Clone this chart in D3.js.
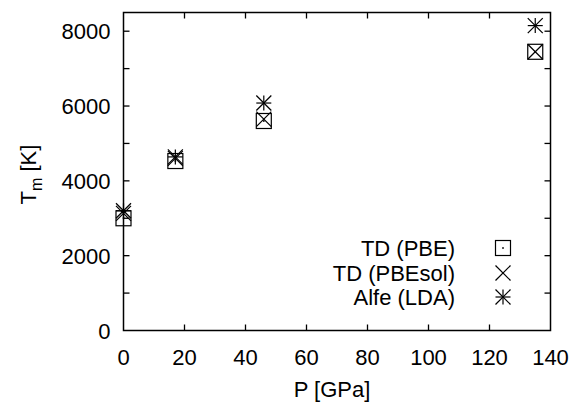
<!DOCTYPE html>
<html><head><meta charset="utf-8">
<script src="https://cdn.jsdelivr.net/npm/d3@7"></script>
<style>body{margin:0;background:#fff}svg{display:block}text{font-family:"Liberation Sans",Arial,sans-serif;fill:#000}</style>
</head><body><svg id="c" width="576" height="402"></svg>
<script>
const pressure = [0, 17, 46, 135];
const tdPBE = [3000, 4530, 5600, 7450];
const tdPBEsol = [3130, 4600, 5650, 7450];
const alfeLDA = [3200, 4640, 6080, 8150];
const xTicks = [0, 20, 40, 60, 80, 100, 120, 140];
const yTicks = [0, 1000, 2000, 3000, 4000, 5000, 6000, 7000, 8000];
const yLabelTicks = [0, 2000, 4000, 6000, 8000];
const seriesNames = ["TD (PBE)", "TD (PBEsol)", "Alfe (LDA)"];

const svg = d3.select("#c");
const L = 123.5, R = 550.5, T = 12.5, B = 330.5;
const x = d3.scaleLinear().domain([0, 140]).range([L, R]);
const y = d3.scaleLinear().domain([0, 8500]).range([B, T]);
const tl = 6, fs = 22;

const g = svg.append("g").attr("stroke", "#000").attr("stroke-width", 1.3).attr("fill", "none");
xTicks.forEach(v => {
  if (v === 0 || v === 140) return;
  g.append("line").attr("x1", x(v)).attr("x2", x(v)).attr("y1", B).attr("y2", B - tl);
  g.append("line").attr("x1", x(v)).attr("x2", x(v)).attr("y1", T).attr("y2", T + tl);
});
yTicks.forEach(v => {
  if (v === 0) return;
  g.append("line").attr("x1", L).attr("x2", L + tl).attr("y1", y(v)).attr("y2", y(v));
  g.append("line").attr("x1", R).attr("x2", R - tl).attr("y1", y(v)).attr("y2", y(v));
});
g.append("rect").attr("x", L).attr("y", T).attr("width", R - L).attr("height", B - T).attr("stroke-width", 1.5);

xTicks.forEach(v => svg.append("text").attr("x", x(v)).attr("y", B + 34).attr("text-anchor", "middle").attr("font-size", fs).text(v));
yLabelTicks.forEach(v => svg.append("text").attr("x", L - 13).attr("y", y(v) + 8).attr("text-anchor", "end").attr("font-size", fs).text(v));
svg.append("text").attr("x", (L + R) / 2 - 5).attr("y", 397).attr("text-anchor", "middle").attr("font-size", fs).text("P [GPa]");
const yl = svg.append("text").attr("transform", "translate(36," + ((T + B) / 2 + 3) + ") rotate(-90)").attr("text-anchor", "middle").attr("font-size", fs);
yl.append("tspan").text("T");
yl.append("tspan").attr("font-size", 16).attr("dy", 6).text("m");
yl.append("tspan").attr("dy", -6).text(" [K]");

const s = 7.5;
function square(gr, cx, cy, dot) {
  gr.append("rect").attr("x", cx - s).attr("y", cy - s).attr("width", 2 * s).attr("height", 2 * s);
  if (dot) gr.append("rect").attr("x", cx - 0.8).attr("y", cy - 0.8).attr("width", 1.6).attr("height", 1.6).attr("fill", "#000").attr("stroke", "none");
}
function cross(gr, cx, cy) {
  gr.append("line").attr("x1", cx - s).attr("y1", cy - s).attr("x2", cx + s).attr("y2", cy + s);
  gr.append("line").attr("x1", cx - s).attr("y1", cy + s).attr("x2", cx + s).attr("y2", cy - s);
}
function star(gr, cx, cy) {
  cross(gr, cx, cy);
  gr.append("line").attr("x1", cx - s).attr("y1", cy).attr("x2", cx + s).attr("y2", cy);
  gr.append("line").attr("x1", cx).attr("y1", cy - s).attr("x2", cx).attr("y2", cy + s);
}
const m = svg.append("g").attr("stroke", "#000").attr("stroke-width", 1.2).attr("fill", "none");
pressure.forEach((p, i) => square(m, x(p), y(tdPBE[i]), true));
pressure.forEach((p, i) => cross(m, x(p), y(tdPBEsol[i])));
pressure.forEach((p, i) => star(m, x(p), y(alfeLDA[i])));

const ly = [248, 273, 297];
const fns = [(a, b) => square(m, a, b, true), (a, b) => cross(m, a, b), (a, b) => star(m, a, b)];
seriesNames.forEach((n, i) => {
  svg.append("text").attr("x", 455).attr("y", ly[i] + 8).attr("text-anchor", "end").attr("font-size", fs).text(n);
  fns[i](503, ly[i]);
});
</script></body></html>
